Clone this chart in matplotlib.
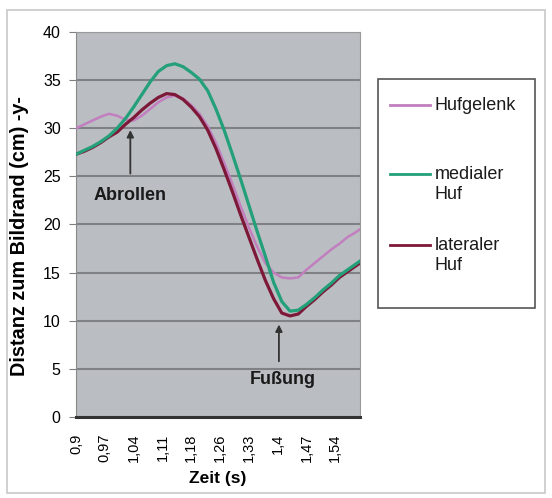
import numpy as np
import matplotlib
matplotlib.use("Agg")
import matplotlib.pyplot as plt
from matplotlib.lines import Line2D
from matplotlib.patches import Rectangle

plt.rcParams['font.family'] = ['Liberation Sans', 'DejaVu Sans']

# -------- Daten --------
zeit = [0.90, 0.92, 0.94, 0.96, 0.98, 1.00, 1.02, 1.04, 1.06, 1.08,
        1.10, 1.12, 1.14, 1.16, 1.18, 1.20, 1.22, 1.24, 1.26, 1.28,
        1.30, 1.32, 1.34, 1.36, 1.38, 1.40, 1.42, 1.44, 1.46, 1.48,
        1.50, 1.52, 1.54, 1.56, 1.58, 1.59]

hufgelenk = [30.0, 30.4, 30.8, 31.2, 31.5, 31.3, 30.9, 30.8, 31.3, 32.0,
             32.7, 33.2, 33.4, 33.1, 32.4, 31.5, 30.2, 28.5, 26.4, 24.2,
             21.9, 19.7, 17.7, 16.0, 15.0, 14.5, 14.4, 14.5, 15.3, 16.0,
             16.7, 17.4, 18.0, 18.7, 19.2, 19.5]

medialer_huf = [27.3, 27.7, 28.1, 28.6, 29.2, 30.0, 31.0, 32.2, 33.5, 34.8,
                35.9, 36.5, 36.7, 36.4, 35.8, 35.1, 33.9, 32.0, 29.8, 27.3,
                24.7, 22.0, 19.3, 16.7, 14.0, 12.0, 11.0, 11.1, 11.7, 12.4,
                13.2, 13.9, 14.7, 15.3, 15.9, 16.2]

lateraler_huf = [27.3, 27.6, 28.0, 28.5, 29.1, 29.6, 30.4, 31.1, 31.9, 32.6,
                 33.2, 33.6, 33.5, 33.0, 32.2, 31.2, 29.8, 27.9, 25.7, 23.4,
                 21.0, 18.7, 16.4, 14.2, 12.3, 10.8, 10.5, 10.7, 11.5, 12.2,
                 13.0, 13.7, 14.5, 15.1, 15.7, 16.0]

tick_pos = [0.90, 0.97, 1.04, 1.11, 1.18, 1.25, 1.32, 1.39, 1.46, 1.53]
tick_labels = ["0,9", "0,97", "1,04", "1,11", "1,18", "1,26", "1,33", "1,4", "1,47", "1,54"]

farbe_huf = "#c27fbf"
farbe_med = "#23a07a"
farbe_lat = "#7d1838"

# -------- Grafik --------
fig = plt.figure(figsize=(5.52, 4.98), dpi=100)
fig.add_artist(Rectangle((7 / 552, 5 / 498), 538 / 552, 483 / 498,
                         transform=fig.transFigure, fill=False,
                         edgecolor="#c8c8c8", linewidth=1.2))

ax = fig.add_axes([76 / 552, 81 / 498, 284 / 552, 385 / 498])
ax.set_facecolor("#babdc1")

ax.plot(zeit, hufgelenk, color=farbe_huf, linewidth=1.8, zorder=3)
ax.plot(zeit, lateraler_huf, color=farbe_lat, linewidth=2.3, zorder=4)
ax.plot(zeit, medialer_huf, color=farbe_med, linewidth=2.3, zorder=5)

ax.set_xlim(0.90, 1.59)
ax.set_ylim(0, 40)
ax.set_yticks(range(0, 41, 5))
ax.set_xticks(tick_pos)
ax.set_xticklabels(tick_labels, rotation=90, fontsize=10.5)
ax.tick_params(axis="y", labelsize=11.5, length=5, color="#808080", pad=6)
ax.tick_params(axis="x", length=0, pad=12)
ax.yaxis.grid(True, color="#7f8185", linewidth=1.5)
ax.set_axisbelow(True)

for s in ["top", "right"]:
    ax.spines[s].set_color("#9a9a9a")
ax.spines["left"].set_color("#8a8a8a")
ax.spines["bottom"].set_color("#333333")
ax.spines["bottom"].set_linewidth(2.2)

ax.set_xlabel("Zeit (s)", fontsize=12.5, fontweight="bold", labelpad=6)
ax.set_ylabel("Distanz zum Bildrand (cm) -y-", fontsize=14.3, fontweight="bold")
ax.yaxis.set_label_coords(-0.165, 0.47)

# Anmerkungen
ax.annotate("", xy=(1.032, 30.1), xytext=(1.032, 25.0),
            arrowprops=dict(arrowstyle="-|>", color="#333333", lw=1.3, mutation_scale=10))
ax.text(1.032, 23.0, "Abrollen", ha="center", va="center", fontsize=13, fontweight="bold", color="#1a1a1a")
ax.annotate("", xy=(1.393, 9.9), xytext=(1.393, 5.5),
            arrowprops=dict(arrowstyle="-|>", color="#333333", lw=1.3, mutation_scale=10))
ax.text(1.402, 3.85, "Fußung", ha="center", va="center", fontsize=13, fontweight="bold", color="#1a1a1a")

# Legende (manuell, Linie an erster Textzeile)
fig.add_artist(Rectangle((378 / 552, (498 - 308) / 498), 157 / 552, 229 / 498,
                         transform=fig.transFigure, fill=False,
                         edgecolor="#555555", linewidth=1.2))
eintraege = [("Hufgelenk", farbe_huf, 105), ("medialer\nHuf", farbe_med, 174), ("lateraler\nHuf", farbe_lat, 245)]
for text, farbe, y in eintraege:
    yf = (498 - y) / 498
    fig.add_artist(Line2D([390 / 552, 430 / 552], [yf, yf], transform=fig.transFigure,
                          color=farbe, linewidth=2.0))
    fig.text(435 / 552, yf + 8 / 498, text, ha="left", va="top", fontsize=13,
             linespacing=1.25, color="#1a1a1a")

fig.savefig("out.png", dpi=100)
